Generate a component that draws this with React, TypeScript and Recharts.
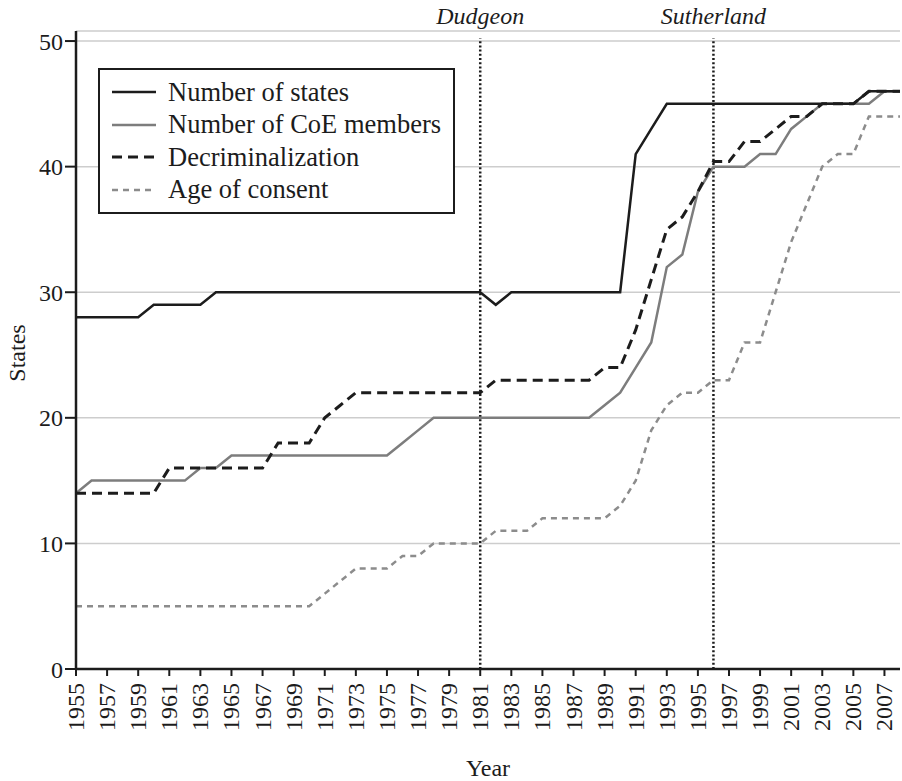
import { CartesianGrid, Legend, Line, LineChart, ReferenceLine, XAxis, YAxis } from "recharts"

const FONT = '"Liberation Serif", "Times New Roman", serif'
const INK = "#1c1c1c"

// ── Data ─────────────────────────────────────────────────────────
const years = [
    1955, 1956, 1957, 1958, 1959, 1960, 1961, 1962, 1963, 1964,
    1965, 1966, 1967, 1968, 1969, 1970, 1971, 1972, 1973, 1974,
    1975, 1976, 1977, 1978, 1979, 1980, 1981, 1982, 1983, 1984,
    1985, 1986, 1987, 1988, 1989, 1990, 1991, 1992, 1993, 1994,
    1995, 1996, 1997, 1998, 1999, 2000, 2001, 2002, 2003, 2004,
    2005, 2006, 2007, 2008,
]

const numberOfStates = [
    28, 28, 28, 28, 28, 29, 29, 29, 29, 30,
    30, 30, 30, 30, 30, 30, 30, 30, 30, 30,
    30, 30, 30, 30, 30, 30, 30, 29, 30, 30,
    30, 30, 30, 30, 30, 30, 41, 43, 45, 45,
    45, 45, 45, 45, 45, 45, 45, 45, 45, 45,
    45, 46, 46, 46,
]

const coeMembers = [
    14, 15, 15, 15, 15, 15, 15, 15, 16, 16,
    17, 17, 17, 17, 17, 17, 17, 17, 17, 17,
    17, 18, 19, 20, 20, 20, 20, 20, 20, 20,
    20, 20, 20, 20, 21, 22, 24, 26, 32, 33,
    38, 40, 40, 40, 41, 41, 43, 44, 45, 45,
    45, 45, 46, 46,
]

const decriminalization = [
    14, 14, 14, 14, 14, 14, 16, 16, 16, 16,
    16, 16, 16, 18, 18, 18, 20, 21, 22, 22,
    22, 22, 22, 22, 22, 22, 22, 23, 23, 23,
    23, 23, 23, 23, 24, 24, 27, 31, 35, 36,
    38, 40.4, 40.4, 42, 42, 43, 44, 44, 45, 45,
    45, 46, 46, 46,
]

const ageOfConsent = [
    5, 5, 5, 5, 5, 5, 5, 5, 5, 5,
    5, 5, 5, 5, 5, 5, 6, 7, 8, 8,
    8, 9, 9, 10, 10, 10, 10, 11, 11, 11,
    12, 12, 12, 12, 12, 13, 15, 19, 21, 22,
    22, 23, 23, 26, 26, 30, 34, 37, 40, 41,
    41, 44, 44, 44,
]

const yearTicks = [
    1955, 1957, 1959, 1961, 1963, 1965, 1967, 1969, 1971, 1973, 1975, 1977, 1979,
    1981, 1983, 1985, 1987, 1989, 1991, 1993, 1995, 1997, 1999, 2001, 2003, 2005, 2007,
]
const stateTicks = [0, 10, 20, 30, 40, 50]

const events = [
    { year: 1981, label: "Dudgeon" },
    { year: 1996, label: "Sutherland" },
]

const series = [
    { key: "age", name: "Age of consent", color: "#8c8c8c", width: 2.5, dash: "6 5" },
    { key: "coe", name: "Number of CoE members", color: "#7d7d7d", width: 2.5, dash: undefined },
    { key: "decrim", name: "Decriminalization", color: INK, width: 3, dash: "10 6" },
    { key: "states", name: "Number of states", color: INK, width: 2.5, dash: undefined },
]

const legendOrder = ["states", "coe", "decrim", "age"]

const data = years.map((year, i) => ({
    year,
    states: numberOfStates[i],
    coe: coeMembers[i],
    decrim: decriminalization[i],
    age: ageOfConsent[i],
}))

// ── Pieces ───────────────────────────────────────────────────────
function YearTick({ x, y, payload }: any) {
    return (
        <text
            x={x}
            y={y}
            transform={`rotate(-90 ${x} ${y})`}
            textAnchor="end"
            dominantBaseline="central"
            fontSize={24}
            fontFamily={FONT}
            fill={INK}
        >
            {payload.value}
        </text>
    )
}

function LegendBox() {
    return (
        <div
            style={{
                border: `2px solid ${INK}`,
                background: "#fff",
                padding: "6px 12px 6px 12px",
                fontFamily: FONT,
                fontSize: 26.5,
                color: INK,
            }}
        >
            {legendOrder.map(k => {
                const s = series.find(v => v.key === k)!
                return (
                    <div key={k} style={{ display: "flex", alignItems: "center", height: 32.5 }}>
                        <svg width={44} height={6} style={{ marginRight: 12 }}>
                            <line
                                x1={0}
                                y1={3}
                                x2={44}
                                y2={3}
                                stroke={s.color}
                                strokeWidth={s.width}
                                strokeDasharray={s.dash}
                            />
                        </svg>
                        <span style={{ whiteSpace: "nowrap" }}>{s.name}</span>
                    </div>
                )
            })}
        </div>
    )
}

export default function App() {
    return (
        <div style={{ position: "absolute", left: 0, top: 0, width: 902, height: 781, background: "#fff" }}>
            <LineChart
                width={902}
                height={781}
                data={data}
                margin={{ top: 31, right: 2, bottom: 0, left: 0 }}
                style={{ fontFamily: FONT }}
            >
                <CartesianGrid vertical={false} stroke="#cdcdcd" strokeWidth={1.5} />
                <XAxis
                    dataKey="year"
                    type="number"
                    domain={[1955, 2008]}
                    ticks={yearTicks}
                    interval={0}
                    height={112}
                    tickSize={7}
                    tickMargin={7}
                    tick={<YearTick />}
                    axisLine={{ stroke: INK, strokeWidth: 2.5 }}
                    tickLine={{ stroke: INK, strokeWidth: 2 }}
                    label={{
                        content: ({ viewBox }: any) => (
                            <text
                                x={viewBox.x + viewBox.width / 2}
                                y={768}
                                textAnchor="middle"
                                dominantBaseline="central"
                                fontSize={24}
                                fontFamily={FONT}
                                fill={INK}
                            >
                                Year
                            </text>
                        ),
                    }}
                />
                <YAxis
                    type="number"
                    domain={[0, 50.8]}
                    ticks={stateTicks}
                    interval={0}
                    width={76}
                    tickSize={11}
                    tickMargin={2}
                    tick={{ fontSize: 24, fill: INK, fontFamily: FONT }}
                    axisLine={{ stroke: INK, strokeWidth: 2.5 }}
                    tickLine={{ stroke: INK, strokeWidth: 2 }}
                    label={{
                        content: ({ viewBox }: any) => {
                            const cy = viewBox.y + viewBox.height / 2 + 3
                            return (
                                <text
                                    x={17}
                                    y={cy}
                                    transform={`rotate(-90 17 ${cy})`}
                                    textAnchor="middle"
                                    dominantBaseline="central"
                                    fontSize={24}
                                    fontFamily={FONT}
                                    fill={INK}
                                >
                                    States
                                </text>
                            )
                        },
                    }}
                />
                {events.map(ev => (
                    <ReferenceLine
                        key={ev.label}
                        segment={[{ x: ev.year, y: 0 }, { x: ev.year, y: 50.2 }]}
                        stroke={INK}
                        strokeWidth={2.5}
                        strokeDasharray="2 2.2"
                        label={{
                            value: ev.label,
                            position: "top",
                            offset: 15,
                            fontSize: 24,
                            fontStyle: "italic",
                            fontFamily: FONT,
                            fill: INK,
                        }}
                    />
                ))}
                {series.map(s => (
                    <Line
                        key={s.key}
                        dataKey={s.key}
                        name={s.name}
                        type="linear"
                        stroke={s.color}
                        strokeWidth={s.width}
                        strokeDasharray={s.dash}
                        dot={false}
                        activeDot={false}
                        isAnimationActive={false}
                    />
                ))}
                <Legend
                    layout="vertical"
                    align="center"
                    verticalAlign="middle"
                    wrapperStyle={{ left: 98, top: 68, width: "auto", height: "auto" }}
                    content={<LegendBox />}
                />
            </LineChart>
        </div>
    )
}
